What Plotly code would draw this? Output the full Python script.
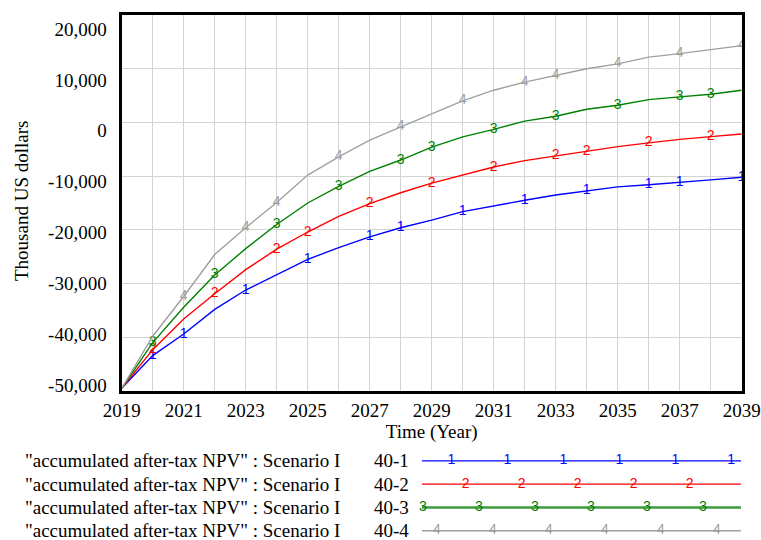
import plotly.graph_objects as go

# ---- data -------------------------------------------------------------
years = list(range(2019, 2040))

npv_40_1 = [-49500, -43400, -39400, -34800, -31200, -28300, -25500, -23300,
            -21300, -19600, -18200, -16600, -15500, -14500, -13500, -12700,
            -12000, -11600, -11200, -10700, -10200]
npv_40_2 = [-49500, -42300, -36600, -31900, -27400, -23600, -20400, -17500,
            -15100, -13100, -11300, -9750, -8300, -7100, -6200, -5400,
            -4500, -3800, -3150, -2650, -2150]
npv_40_3 = [-49500, -41000, -34400, -28400, -23500, -19000, -15000, -11900,
            -9100, -7000, -4600, -2700, -1300, 250, 1150, 2450,
            3200, 4250, 4750, 5250, 6000]
npv_40_4 = [-49500, -39800, -32400, -24600, -19600, -14900, -9800, -6400,
            -3300, -800, 1600, 4000, 6000, 7500, 8750, 10000,
            10900, 12150, 12800, 13500, 14300]

# years at which each run carries its number label
label_years_40_1 = [2020, 2021, 2023, 2025, 2027, 2028, 2030, 2032, 2034, 2036, 2037, 2039]
label_years_40_2 = [2020, 2022, 2024, 2025, 2027, 2029, 2031, 2033, 2034, 2036, 2038]
label_years_40_3 = [2020, 2022, 2024, 2026, 2028, 2029, 2031, 2033, 2035, 2037, 2038]
label_years_40_4 = [2021, 2023, 2024, 2026, 2028, 2030, 2032, 2033, 2035, 2037, 2039]

run_names = ["40-1", "40-2", "40-3", "40-4"]
run_tags = ["1", "2", "3", "4"]
variable_label = '"accumulated after-tax NPV" : Scenario I'

y_tick_values = [20000, 10000, 0, -10000, -20000, -30000, -40000, -50000]
y_tick_text = ["20,000", "10,000", "0", "-10,000", "-20,000", "-30,000", "-40,000", "-50,000"]
x_tick_values = list(range(2019, 2040, 2))

# ---- styling ----------------------------------------------------------
W, H = 761, 540
PL, PR, PT, PB = 121.7, 741.7, 15, 391      # plot frame, px
LEG_L, LEG_R, LEG_T = 422, 741, 449.3       # legend strip, px
SERIF = "Liberation Serif, Times New Roman, serif"
SANS = "Liberation Sans, Arial, sans-serif"
colors = ["#0000FF", "#FF0000", "#008000", "#A0A0A0"]
legend_widths = [1.3, 1.3, 2.6, 1.6]
legend_colors = ["#0000FF", "#FF0000", "#3C9A3C", "#A0A0A0"]
legend_tag_start = [0.092, 0.137, 0.003, 0.047]
legend_tag_step = 0.1755

series = [npv_40_1, npv_40_2, npv_40_3, npv_40_4]
label_years = [label_years_40_1, label_years_40_2, label_years_40_3, label_years_40_4]

fig = go.Figure()

for vals, lyears, tag, col in zip(series, label_years, run_tags, colors):
    fig.add_trace(go.Scatter(
        x=years, y=vals, mode="lines+text",
        text=[tag if yr in lyears else "" for yr in years],
        textposition="middle center",
        textfont=dict(family=SANS, size=14, color=col),
        line=dict(color=col, width=1.4),
        showlegend=False, hoverinfo="skip", cliponaxis=False,
    ))

# anchor trace for the tick-label axis
fig.add_trace(go.Scatter(x=[years[0]], y=[npv_40_1[0]], xaxis="x", yaxis="y3",
                         mode="markers", marker=dict(opacity=0),
                         showlegend=False, hoverinfo="skip"))

# legend rows drawn on their own small axes
for i, (tag, col, lw) in enumerate(zip(run_tags, legend_colors, legend_widths)):
    fig.add_trace(go.Scatter(
        x=[0, 1], y=[i, i], mode="lines", xaxis="x2", yaxis="y2",
        line=dict(color=col, width=lw), showlegend=False, hoverinfo="skip"))
    xs = []
    k = 0
    while legend_tag_start[i] + k * legend_tag_step <= 1.0:
        xs.append(legend_tag_start[i] + k * legend_tag_step)
        k += 1
    fig.add_trace(go.Scatter(
        x=xs, y=[i] * len(xs), mode="text", text=[tag] * len(xs),
        textposition="middle center", xaxis="x2", yaxis="y2",
        textfont=dict(family=SANS, size=14, color=colors[i]),
        showlegend=False, hoverinfo="skip", cliponaxis=False))

annotations = []
for i, name in enumerate(run_names):
    annotations.append(dict(x=23 / W, xref="paper", y=i, yref="y2", text=variable_label,
                            xanchor="left", yanchor="middle", showarrow=False,
                            font=dict(family=SERIF, size=19, color="black")))
    annotations.append(dict(x=411 / W, xref="paper", y=i, yref="y2", text=name,
                            xanchor="right", yanchor="middle", showarrow=False,
                            font=dict(family=SERIF, size=19, color="black")))
annotations.append(dict(x=21 / W, xref="paper", y=1 - 201 / H, yref="paper",
                        text="Thousand US dollars", textangle=-90, showarrow=False,
                        xanchor="center", yanchor="middle",
                        font=dict(family=SERIF, size=19, color="black")))

ydom = [1 - PB / H, 1 - PT / H]
xdom = [PL / W, PR / W]
# label axis: same frame, scaled so labels sit slightly inside the frame ends
lab_top, lab_bot = 29, 385
span = (lab_bot - lab_top) / (y_tick_values[0] - y_tick_values[-1])
y3_top = y_tick_values[0] + (lab_top - PT) / span
y3_bot = y3_top - (PB - PT) / span

fig.update_layout(
    width=W, height=H,
    margin=dict(l=0, r=0, t=0, b=0),
    paper_bgcolor="white", plot_bgcolor="white",
    annotations=annotations,
    xaxis=dict(domain=xdom, range=[2019, 2039], anchor="y",
               tickvals=x_tick_values, ticks="", showgrid=True,
               gridcolor="#D3D3D3", gridwidth=1,
               minor=dict(dtick=1, tick0=2019, showgrid=True, gridcolor="#D3D3D3", gridwidth=1),
               showline=True, linecolor="black", linewidth=3, mirror=True,
               tickfont=dict(family=SERIF, size=19, color="black"),
               title=dict(text="Time (Year)", standoff=4,
                          font=dict(family=SERIF, size=19, color="black")),
               zeroline=False, automargin=False),
    yaxis=dict(domain=ydom, range=[-50000, 20000], anchor="x",
               tickvals=y_tick_values, showticklabels=False, ticks="",
               showgrid=True, gridcolor="#D3D3D3", gridwidth=1,
               showline=True, linecolor="black", linewidth=3, mirror=True,
               zeroline=False, automargin=False),
    yaxis3=dict(domain=ydom, range=[y3_bot, y3_top], overlaying="y", anchor="x",
                side="left", tickvals=y_tick_values, ticktext=y_tick_text,
                ticks="", showgrid=False, zeroline=False, showline=False,
                ticklabelstandoff=14,
                tickfont=dict(family=SERIF, size=19, color="black"),
                automargin=False),
    xaxis2=dict(domain=[LEG_L / W, LEG_R / W], range=[0, 1], anchor="y2",
                visible=False, fixedrange=True),
    yaxis2=dict(domain=[0, 1 - LEG_T / H], range=[3.4, -0.5], anchor="x2",
                visible=False, fixedrange=True),
)

fig.write_html("out.html")
